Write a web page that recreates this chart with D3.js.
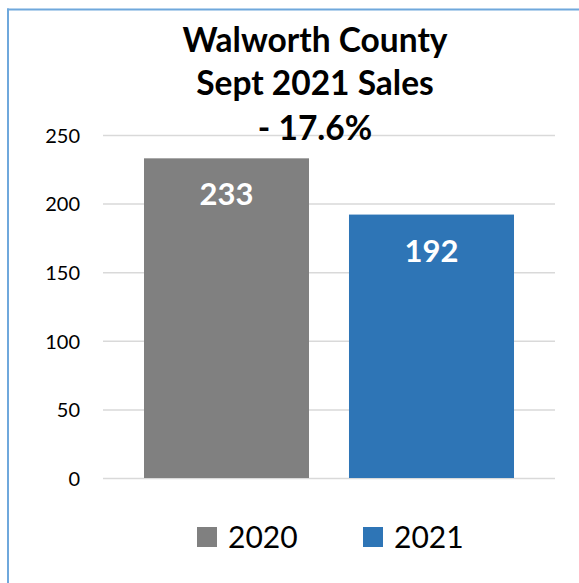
<!DOCTYPE html>
<html>
<head>
<meta charset="utf-8">
<script src="https://cdn.jsdelivr.net/npm/d3@7"></script>
<style>
  html, body { margin: 0; padding: 0; background: #fff; }
  svg { display: block; }
  text { font-family: Lato, "Open Sans", sans-serif; }
</style>
</head>
<body>
<svg id="chart" width="579" height="583"></svg>
<script>
// Monthly sales, September of each year
const years = ["2020", "2021"];
const sales = [233, 192];
const barColors = ["#808080", "#2e75b6"];
const yTicks = [0, 50, 100, 150, 200, 250];
const titleLines = ["Walworth County", "Sept 2021 Sales", "- 17.6%"];

const svg = d3.select("#chart");
const W = 579, H = 583;

// Frame: light blue edge along the left and top
svg.append("line").attr("x1", 8).attr("x2", 8).attr("y1", 8.5).attr("y2", H)
  .attr("stroke", "#6fa8dc").attr("stroke-width", 2);
svg.append("line").attr("x1", 7).attr("x2", W).attr("y1", 9.5).attr("y2", 9.5)
  .attr("stroke", "#6fa8dc").attr("stroke-width", 2);

const plot = { left: 103, right: 555, top: 135, bottom: 478 };

const x = d3.scaleBand()
  .domain(years)
  .range([plot.left, plot.right])
  .paddingInner(0.195)
  .paddingOuter(0.2);

const y = d3.scaleLinear()
  .domain([0, 250])
  .range([plot.bottom, plot.top]);

// Value axis with horizontal gridlines
const yAxis = svg.append("g")
  .attr("transform", `translate(${plot.left},0)`)
  .call(d3.axisLeft(y)
    .tickValues(yTicks)
    .tickSize(-(plot.right - plot.left))
    .tickPadding(23));
yAxis.select(".domain").remove();
yAxis.selectAll(".tick line")
  .attr("stroke", "#d9d9d9")
  .attr("stroke-width", 1.5);
yAxis.selectAll(".tick text")
  .attr("fill", "#000")
  .attr("font-size", 20)
  .attr("dy", "0.36em")
  .style("font-family", "Lato, 'Open Sans', sans-serif");

// Bars
const data = years.map((yr, i) => ({ year: yr, value: sales[i], color: barColors[i] }));
svg.append("g").selectAll("rect")
  .data(data)
  .join("rect")
  .attr("x", d => x(d.year))
  .attr("y", d => y(d.value))
  .attr("width", x.bandwidth())
  .attr("height", d => y(0) - y(d.value))
  .attr("fill", d => d.color);

// Value labels inside the top of each bar
svg.append("g").selectAll("text")
  .data(data)
  .join("text")
  .attr("x", d => x(d.year) + x.bandwidth() / 2)
  .attr("y", d => y(d.value) + 47)
  .attr("text-anchor", "middle")
  .attr("fill", "#fff")
  .attr("font-weight", "bold")
  .attr("font-size", 31)
  .text(d => d.value);

// Title, three lines
const titleBaselines = [52, 95, 140];
svg.append("g").selectAll("text")
  .data(titleLines)
  .join("text")
  .attr("x", 315)
  .attr("y", (d, i) => titleBaselines[i])
  .attr("text-anchor", "middle")
  .attr("fill", "#000")
  .attr("font-weight", "bold")
  .attr("font-size", 33.5)
  .text(d => d);

// Legend
const legendX = [197, 363];
const legend = svg.append("g").selectAll("g")
  .data(data)
  .join("g")
  .attr("transform", (d, i) => `translate(${legendX[i]},527)`);
legend.append("rect")
  .attr("width", 20).attr("height", 20)
  .attr("fill", d => d.color);
legend.append("text")
  .attr("x", 31)
  .attr("y", 20.5)
  .attr("font-size", 30)
  .attr("fill", "#000")
  .text(d => d.year);
</script>
</body>
</html>
